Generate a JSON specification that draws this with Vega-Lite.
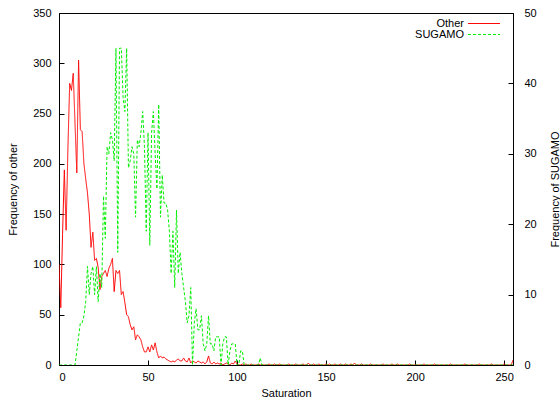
{
  "$schema": "https://vega.github.io/schema/vega-lite/v6.json",
  "width": 454,
  "height": 352,
  "autosize": {"type": "none"},
  "padding": {"left": 59, "top": 13, "right": 47, "bottom": 36},
  "background": "white",
  "config": {
    "view": {"stroke": "#000", "strokeWidth": 1},
    "axis": {
      "labelFont": "Liberation Sans", "labelFontSize": 11, "labelColor": "#000",
      "titleFont": "Liberation Sans", "titleFontSize": 11, "titleFontWeight": "normal", "titleColor": "#000",
      "domainColor": "#000", "tickColor": "#000", "tickSize": -5, "grid": false
    }
  },
  "data": {"values": [
    {"s":0,"Other":100,"SUGAMO":0},{"s":1,"Other":57,"SUGAMO":0},{"s":2,"Other":130,"SUGAMO":0},{"s":3,"Other":194,"SUGAMO":0},{"s":4,"Other":134,"SUGAMO":0},
    {"s":5,"Other":215,"SUGAMO":0},{"s":6,"Other":280,"SUGAMO":0},{"s":7,"Other":273,"SUGAMO":0},{"s":8,"Other":290,"SUGAMO":0},{"s":9,"Other":240,"SUGAMO":0},
    {"s":10,"Other":191,"SUGAMO":2},{"s":11,"Other":303,"SUGAMO":4},{"s":12,"Other":234,"SUGAMO":6},{"s":13,"Other":232,"SUGAMO":6},{"s":14,"Other":200,"SUGAMO":7},
    {"s":15,"Other":185,"SUGAMO":9},{"s":16,"Other":171,"SUGAMO":14},{"s":17,"Other":150,"SUGAMO":10},{"s":18,"Other":117,"SUGAMO":13},{"s":19,"Other":132,"SUGAMO":14},
    {"s":20,"Other":104,"SUGAMO":10},{"s":21,"Other":106,"SUGAMO":14},{"s":22,"Other":97,"SUGAMO":9},{"s":23,"Other":75,"SUGAMO":13},{"s":24,"Other":88,"SUGAMO":11},
    {"s":25,"Other":91,"SUGAMO":24},{"s":26,"Other":94,"SUGAMO":18},{"s":27,"Other":88,"SUGAMO":31},{"s":28,"Other":96,"SUGAMO":30},{"s":29,"Other":100,"SUGAMO":33},
    {"s":30,"Other":106,"SUGAMO":32},{"s":31,"Other":73,"SUGAMO":29},{"s":32,"Other":94,"SUGAMO":45},{"s":33,"Other":91,"SUGAMO":16},{"s":34,"Other":94,"SUGAMO":45},
    {"s":35,"Other":70,"SUGAMO":45},{"s":36,"Other":73,"SUGAMO":38},{"s":37,"Other":62,"SUGAMO":36},{"s":38,"Other":50,"SUGAMO":45},{"s":39,"Other":48,"SUGAMO":28},
    {"s":40,"Other":40,"SUGAMO":29},{"s":41,"Other":35,"SUGAMO":31},{"s":42,"Other":38,"SUGAMO":30},{"s":43,"Other":25,"SUGAMO":21},{"s":44,"Other":30,"SUGAMO":32},
    {"s":45,"Other":28,"SUGAMO":31},{"s":46,"Other":25,"SUGAMO":33},{"s":47,"Other":18,"SUGAMO":36},{"s":48,"Other":13,"SUGAMO":31},{"s":49,"Other":13,"SUGAMO":19},
    {"s":50,"Other":18,"SUGAMO":33},{"s":51,"Other":13,"SUGAMO":17},{"s":52,"Other":20,"SUGAMO":33},{"s":53,"Other":15,"SUGAMO":36},{"s":54,"Other":22,"SUGAMO":30},
    {"s":55,"Other":13,"SUGAMO":25},{"s":56,"Other":7,"SUGAMO":37},{"s":57,"Other":9,"SUGAMO":21},{"s":58,"Other":7,"SUGAMO":27},{"s":59,"Other":8,"SUGAMO":23},
    {"s":60,"Other":6,"SUGAMO":23},{"s":61,"Other":5,"SUGAMO":22},{"s":62,"Other":4,"SUGAMO":19},{"s":63,"Other":3,"SUGAMO":13},{"s":64,"Other":4,"SUGAMO":19},
    {"s":65,"Other":3,"SUGAMO":11},{"s":66,"Other":5,"SUGAMO":22},{"s":67,"Other":6,"SUGAMO":13},{"s":68,"Other":4,"SUGAMO":16},{"s":69,"Other":4,"SUGAMO":13},
    {"s":70,"Other":7,"SUGAMO":11},{"s":71,"Other":4,"SUGAMO":9},{"s":72,"Other":3,"SUGAMO":6},{"s":73,"Other":7,"SUGAMO":7},{"s":74,"Other":2,"SUGAMO":11},
    {"s":75,"Other":4,"SUGAMO":0},{"s":76,"Other":3,"SUGAMO":6},{"s":77,"Other":2,"SUGAMO":8},{"s":78,"Other":4,"SUGAMO":5},{"s":79,"Other":3,"SUGAMO":5},
    {"s":80,"Other":2,"SUGAMO":7},{"s":81,"Other":3,"SUGAMO":3},{"s":82,"Other":1,"SUGAMO":2},{"s":83,"Other":3,"SUGAMO":3},{"s":84,"Other":9,"SUGAMO":7},
    {"s":85,"Other":2,"SUGAMO":3},{"s":86,"Other":1,"SUGAMO":3},{"s":87,"Other":3,"SUGAMO":2},{"s":88,"Other":1,"SUGAMO":4},{"s":89,"Other":2,"SUGAMO":4},
    {"s":90,"Other":1,"SUGAMO":4},{"s":91,"Other":2,"SUGAMO":0},{"s":92,"Other":0,"SUGAMO":3},{"s":93,"Other":1,"SUGAMO":4},{"s":94,"Other":2,"SUGAMO":4},
    {"s":95,"Other":1,"SUGAMO":0},{"s":96,"Other":0,"SUGAMO":2},{"s":97,"Other":2,"SUGAMO":3},{"s":98,"Other":1,"SUGAMO":3},{"s":99,"Other":4,"SUGAMO":3},
    {"s":100,"Other":1,"SUGAMO":0},{"s":101,"Other":0,"SUGAMO":0},{"s":102,"Other":0,"SUGAMO":2},{"s":103,"Other":1,"SUGAMO":2},{"s":104,"Other":0,"SUGAMO":0},
    {"s":105,"Other":1,"SUGAMO":0},{"s":106,"Other":0,"SUGAMO":0},{"s":107,"Other":0,"SUGAMO":0},{"s":108,"Other":1,"SUGAMO":0},{"s":109,"Other":0,"SUGAMO":0},
    {"s":110,"Other":0,"SUGAMO":0},{"s":111,"Other":0,"SUGAMO":0},{"s":112,"Other":1,"SUGAMO":0},{"s":113,"Other":0,"SUGAMO":1},{"s":114,"Other":0,"SUGAMO":0},
    {"s":115,"Other":0,"SUGAMO":0},{"s":116,"Other":0,"SUGAMO":0},{"s":117,"Other":0,"SUGAMO":0},{"s":118,"Other":1,"SUGAMO":0},{"s":119,"Other":0,"SUGAMO":0},
    {"s":120,"Other":0,"SUGAMO":0},{"s":121,"Other":1,"SUGAMO":0},{"s":122,"Other":0,"SUGAMO":0},{"s":123,"Other":0,"SUGAMO":0},{"s":124,"Other":1,"SUGAMO":0},
    {"s":125,"Other":0,"SUGAMO":0},{"s":126,"Other":0,"SUGAMO":0},{"s":127,"Other":0,"SUGAMO":0},{"s":128,"Other":0,"SUGAMO":0},{"s":129,"Other":1,"SUGAMO":0},
    {"s":130,"Other":0,"SUGAMO":0},{"s":131,"Other":0,"SUGAMO":0},{"s":132,"Other":0,"SUGAMO":0},{"s":133,"Other":1,"SUGAMO":0},{"s":134,"Other":0,"SUGAMO":0},
    {"s":135,"Other":0,"SUGAMO":0},{"s":136,"Other":0,"SUGAMO":0},{"s":137,"Other":1,"SUGAMO":0},{"s":138,"Other":0,"SUGAMO":0},{"s":139,"Other":0,"SUGAMO":0},
    {"s":140,"Other":2,"SUGAMO":0},{"s":141,"Other":0,"SUGAMO":0},{"s":142,"Other":0,"SUGAMO":0},{"s":143,"Other":1,"SUGAMO":0},{"s":144,"Other":0,"SUGAMO":0},
    {"s":145,"Other":0,"SUGAMO":0},{"s":146,"Other":1,"SUGAMO":0},{"s":147,"Other":0,"SUGAMO":0},{"s":148,"Other":0,"SUGAMO":0},{"s":149,"Other":0,"SUGAMO":0},
    {"s":150,"Other":1,"SUGAMO":0},{"s":151,"Other":0,"SUGAMO":0},{"s":152,"Other":1,"SUGAMO":0},{"s":153,"Other":0,"SUGAMO":0},{"s":154,"Other":0,"SUGAMO":0},
    {"s":155,"Other":1,"SUGAMO":0},{"s":156,"Other":0,"SUGAMO":0},{"s":157,"Other":0,"SUGAMO":0},{"s":158,"Other":1,"SUGAMO":0},{"s":159,"Other":0,"SUGAMO":0},
    {"s":160,"Other":0,"SUGAMO":0},{"s":161,"Other":1,"SUGAMO":0},{"s":162,"Other":0,"SUGAMO":0},{"s":163,"Other":0,"SUGAMO":0},{"s":164,"Other":1,"SUGAMO":0},
    {"s":165,"Other":0,"SUGAMO":0},{"s":166,"Other":2,"SUGAMO":0},{"s":167,"Other":0,"SUGAMO":0},{"s":168,"Other":0,"SUGAMO":0},{"s":169,"Other":0,"SUGAMO":0},
    {"s":170,"Other":1,"SUGAMO":0},{"s":171,"Other":0,"SUGAMO":0},{"s":172,"Other":0,"SUGAMO":0},{"s":173,"Other":0,"SUGAMO":0},{"s":174,"Other":0,"SUGAMO":0},
    {"s":175,"Other":1,"SUGAMO":0},{"s":176,"Other":0,"SUGAMO":0},{"s":177,"Other":0,"SUGAMO":0},{"s":178,"Other":0,"SUGAMO":0},{"s":179,"Other":0,"SUGAMO":0},
    {"s":180,"Other":0,"SUGAMO":0},{"s":181,"Other":0,"SUGAMO":0},{"s":182,"Other":1,"SUGAMO":0},{"s":183,"Other":0,"SUGAMO":0},{"s":184,"Other":0,"SUGAMO":0},
    {"s":185,"Other":0,"SUGAMO":0},{"s":186,"Other":0,"SUGAMO":0},{"s":187,"Other":1,"SUGAMO":0},{"s":188,"Other":0,"SUGAMO":0},{"s":189,"Other":0,"SUGAMO":0},
    {"s":190,"Other":1,"SUGAMO":0},{"s":191,"Other":0,"SUGAMO":0},{"s":192,"Other":0,"SUGAMO":0},{"s":193,"Other":0,"SUGAMO":0},{"s":194,"Other":0,"SUGAMO":0},
    {"s":195,"Other":0,"SUGAMO":0},{"s":196,"Other":0,"SUGAMO":0},{"s":197,"Other":1,"SUGAMO":0},{"s":198,"Other":0,"SUGAMO":0},{"s":199,"Other":0,"SUGAMO":0},
    {"s":200,"Other":0,"SUGAMO":0},{"s":201,"Other":0,"SUGAMO":0},{"s":202,"Other":0,"SUGAMO":0},{"s":203,"Other":0,"SUGAMO":0},{"s":204,"Other":0,"SUGAMO":0},
    {"s":205,"Other":1,"SUGAMO":0},{"s":206,"Other":0,"SUGAMO":0},{"s":207,"Other":0,"SUGAMO":0},{"s":208,"Other":0,"SUGAMO":0},{"s":209,"Other":0,"SUGAMO":0},
    {"s":210,"Other":0,"SUGAMO":0},{"s":211,"Other":1,"SUGAMO":0},{"s":212,"Other":0,"SUGAMO":0},{"s":213,"Other":0,"SUGAMO":0},{"s":214,"Other":0,"SUGAMO":0},
    {"s":215,"Other":0,"SUGAMO":0},{"s":216,"Other":0,"SUGAMO":0},{"s":217,"Other":0,"SUGAMO":0},{"s":218,"Other":0,"SUGAMO":0},{"s":219,"Other":0,"SUGAMO":0},
    {"s":220,"Other":1,"SUGAMO":0},{"s":221,"Other":0,"SUGAMO":0},{"s":222,"Other":0,"SUGAMO":0},{"s":223,"Other":0,"SUGAMO":0},{"s":224,"Other":0,"SUGAMO":0},
    {"s":225,"Other":0,"SUGAMO":0},{"s":226,"Other":0,"SUGAMO":0},{"s":227,"Other":0,"SUGAMO":0},{"s":228,"Other":1,"SUGAMO":0},{"s":229,"Other":0,"SUGAMO":0},
    {"s":230,"Other":0,"SUGAMO":0},{"s":231,"Other":0,"SUGAMO":0},{"s":232,"Other":0,"SUGAMO":0},{"s":233,"Other":0,"SUGAMO":0},{"s":234,"Other":0,"SUGAMO":0},
    {"s":235,"Other":0,"SUGAMO":0},{"s":236,"Other":1,"SUGAMO":0},{"s":237,"Other":0,"SUGAMO":0},{"s":238,"Other":0,"SUGAMO":0},{"s":239,"Other":0,"SUGAMO":0},
    {"s":240,"Other":0,"SUGAMO":0},{"s":241,"Other":0,"SUGAMO":0},{"s":242,"Other":0,"SUGAMO":0},{"s":243,"Other":1,"SUGAMO":0},{"s":244,"Other":0,"SUGAMO":0},
    {"s":245,"Other":0,"SUGAMO":0},{"s":246,"Other":0,"SUGAMO":0},{"s":247,"Other":0,"SUGAMO":0},{"s":248,"Other":0,"SUGAMO":0},{"s":249,"Other":0,"SUGAMO":0},
    {"s":250,"Other":1,"SUGAMO":0},{"s":251,"Other":0,"SUGAMO":0},{"s":252,"Other":0,"SUGAMO":0},{"s":253,"Other":0,"SUGAMO":0},{"s":254,"Other":0,"SUGAMO":0},
    {"s":255,"Other":5,"SUGAMO":0}
  ]},
  "transform": [{"fold": ["Other", "SUGAMO"], "as": ["series", "freq"]}],
  "encoding": {
    "x": {
      "field": "s", "type": "quantitative",
      "scale": {"domain": [0, 255], "nice": false, "zero": false},
      "axis": {"title": "Saturation", "values": [0, 50, 100, 150, 200, 250], "labelPadding": 11, "titlePadding": 5}
    },
    "color": {
      "field": "series", "type": "nominal",
      "scale": {"domain": ["Other", "SUGAMO"], "range": ["#ff0000", "#00ee00"]},
      "legend": {
        "orient": "none", "legendX": 419, "legendY": 4.5, "title": null, "padding": 0,
        "labelFont": "Liberation Sans", "labelFontSize": 11, "labelColor": "#000",
        "symbolType": "M-3,0H3", "symbolSize": 114, "symbolStrokeWidth": 1,
        "labelAlign": "right", "labelOffset": -26, "rowPadding": -1
      }
    },
    "strokeDash": {
      "field": "series", "type": "nominal",
      "scale": {"domain": ["Other", "SUGAMO"], "range": [[1, 0], [3, 2]]}
    }
  },
  "layer": [
    {
      "transform": [{"filter": "datum.series === 'Other'"}],
      "mark": {"type": "line", "strokeWidth": 1, "clip": true},
      "encoding": {
        "y": {
          "field": "freq", "type": "quantitative",
          "scale": {"domain": [0, 350], "nice": false},
          "axis": {"orient": "left", "title": "Frequency of other", "values": [0, 50, 100, 150, 200, 250, 300, 350], "labelPadding": 13, "titlePadding": 14}
        }
      }
    },
    {
      "transform": [{"filter": "datum.series === 'SUGAMO'"}],
      "mark": {"type": "line", "strokeWidth": 1, "clip": true},
      "encoding": {
        "y": {
          "field": "freq", "type": "quantitative",
          "scale": {"domain": [0, 50], "nice": false},
          "axis": {"orient": "right", "title": "Frequency of SUGAMO", "titleAngle": 270, "values": [0, 10, 20, 30, 40, 50], "labelPadding": 16, "titlePadding": 24}
        }
      }
    }
  ],
  "resolve": {"scale": {"y": "independent"}}
}
